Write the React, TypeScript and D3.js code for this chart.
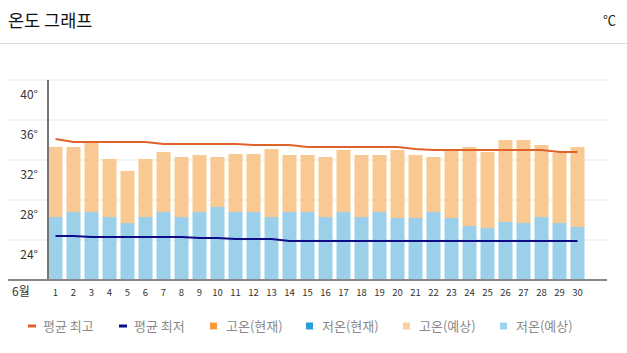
import { useMemo } from 'react';
import * as d3 from 'd3';

// 6월 일별 기온
const days = ['1', '2', '3', '4', '5', '6', '7', '8', '9', '10', '11', '12', '13', '14', '15',
    '16', '17', '18', '19', '20', '21', '22', '23', '24', '25', '26', '27', '28', '29', '30'];

const highForecast = [33.3, 33.3, 33.8, 32.1, 30.9, 32.1, 32.8, 32.3, 32.5, 32.3, 32.6, 32.6, 33.1, 32.5, 32.5,
    32.3, 33.0, 32.5, 32.5, 33.0, 32.5, 32.3, 32.9, 33.3, 32.8, 34.0, 34.0, 33.5, 32.7, 33.3];
const lowForecast = [26.3, 26.8, 26.8, 26.3, 25.7, 26.3, 26.8, 26.3, 26.8, 27.3, 26.8, 26.8, 26.3, 26.8, 26.8,
    26.3, 26.8, 26.3, 26.8, 26.2, 26.2, 26.8, 26.2, 25.4, 25.2, 25.8, 25.7, 26.3, 25.7, 25.3];
const avgHigh = [34.1, 33.8, 33.8, 33.8, 33.8, 33.8, 33.6, 33.6, 33.6, 33.6, 33.6, 33.5, 33.5, 33.5, 33.3,
    33.3, 33.3, 33.3, 33.3, 33.3, 33.1, 33.0, 33.0, 33.0, 33.0, 33.0, 33.0, 33.0, 32.8, 32.8];
const avgLow = [24.4, 24.4, 24.3, 24.3, 24.3, 24.3, 24.3, 24.3, 24.2, 24.2, 24.1, 24.1, 24.1, 23.9, 23.9,
    23.9, 23.9, 23.9, 23.9, 23.9, 23.9, 23.9, 23.9, 23.9, 23.9, 23.9, 23.9, 23.9, 23.9, 23.9];

const yTicks = [40, 36, 32, 28, 24];

const legendItems = [
    { label: '평균 최고', color: '#e0622a', kind: 'line' },
    { label: '평균 최저', color: '#0d0d8a', kind: 'line' },
    { label: '고온(현재)', color: '#f79a3c', kind: 'box' },
    { label: '저온(현재)', color: '#2d9ed8', kind: 'box' },
    { label: '고온(예상)', color: '#fccf9f', kind: 'box' },
    { label: '저온(예상)', color: '#9fd2ee', kind: 'box' },
];
const legendX = [27, 118, 210, 306, 403, 500];

const FONT = '"Noto Sans CJK KR", "Noto Sans", sans-serif';

export default function App() {
    const width = 627;
    const height = 353;

    const x = useMemo(() => d3.scaleBand<string>()
        .domain(days)
        .range([46.5, 586.5])
        .paddingInner(0.22)
        .paddingOuter(0.11), []);

    const y = useMemo(() => d3.scaleLinear().domain([20, 40]).range([280, 80]), []);

    const cx = (i: number) => (x(days[i]) as number) + x.bandwidth() / 2;

    const line = d3.line<number>().x((_, i) => cx(i)).y((d) => y(d));

    return (
        <svg width={width} height={height} style={{ position: 'absolute', left: 0, top: 0 }} fontFamily={FONT}>
            <rect width={width} height={height} fill="#fff" />
            <text x={8} y={27} fontSize={17.5} fill="#111">온도 그래프</text>
            <text x={616} y={25} fontSize={13} fill="#222" textAnchor="end">℃</text>
            <line x1={0} x2={width} y1={43.5} y2={43.5} stroke="#dedede" />

            {yTicks.map((t) => (
                <g key={t}>
                    <line x1={8} x2={607} y1={y(t)} y2={y(t)} stroke="#efefef" strokeWidth={1.5} />
                    <text x={38} y={y(t) + 15} dy="0.35em" textAnchor="end" fontSize={12} fill="#333">{t}°</text>
                </g>
            ))}

            {days.map((d, i) => (
                <g key={d}>
                    <rect x={x(d)} width={x.bandwidth()} y={y(lowForecast[i])}
                        height={y(20) - y(lowForecast[i])} fill="#9bcfea" />
                    <rect x={x(d)} width={x.bandwidth()} y={y(highForecast[i])}
                        height={y(lowForecast[i]) - y(highForecast[i])} fill="#f8c993" />
                    <text x={cx(i)} y={293} dy="0.35em" textAnchor="middle" fontSize={9.5} fill="#333">{d}</text>
                </g>
            ))}

            <path d={line(avgHigh) as string} fill="none" stroke="#e0622a" strokeWidth={2} />
            <path d={line(avgLow) as string} fill="none" stroke="#0d0d8a" strokeWidth={2} />

            <line x1={48} x2={48} y1={80} y2={280} stroke="#777" strokeWidth={2} />
            <line x1={8} x2={607} y1={280} y2={280} stroke="#888" strokeWidth={2} />
            <text x={12} y={292} dy="0.35em" fontSize={12} fill="#333">6월</text>

            {legendItems.map((it, i) => (
                <g key={it.label} transform={`translate(${legendX[i]},326)`}>
                    {it.kind === 'line'
                        ? <rect x={1} y={-1.5} width={8} height={3} fill={it.color} />
                        : <rect x={0} y={-3.5} width={7} height={7} fill={it.color} />}
                    <text x={16} y={0} dy="0.35em" fontSize={13} fill="#8a8a8a">{it.label}</text>
                </g>
            ))}
        </svg>
    );
}
